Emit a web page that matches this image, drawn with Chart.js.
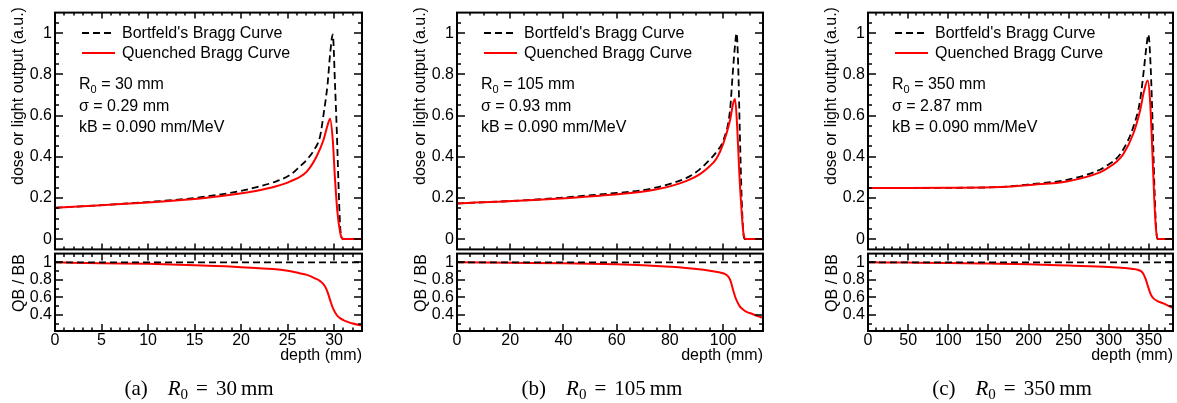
<!DOCTYPE html>
<html><head><meta charset="utf-8">
<script src="https://cdn.jsdelivr.net/npm/chart.js@4.4.0/dist/chart.umd.min.js"></script>
<style>
body{margin:0;width:1177px;height:403px;background:#fff;position:relative;overflow:hidden;font-family:"Liberation Sans",Arial,sans-serif;color:#000;}
canvas{position:absolute;}
.t{position:absolute;font-size:16px;white-space:nowrap;line-height:20px;}
.t sub{font-size:11px;vertical-align:-4px;line-height:0;}
.rot{position:absolute;font-size:16px;white-space:nowrap;line-height:18px;transform:translate(-50%,-50%) rotate(-90deg);}
.cap{position:absolute;font-family:"Liberation Serif","DejaVu Serif",serif;font-size:21px;white-space:nowrap;line-height:24px;transform:translateX(-50%);}
.cap sub{font-size:15px;vertical-align:-4px;line-height:0;}
svg{position:absolute;left:0;top:0;}
</style>
</head><body>
<script>
// ---------------- data ----------------
// Panel (a): R0 = 30 mm
const depthA_BB = [0, 5, 10, 15, 20, 21.7, 23.5, 25.3, 26.3, 27.06, 27.8, 28.5, 28.85, 29.3, 29.57, 29.86, 30.1, 30.3, 30.47, 30.65, 30.8, 31.0, 33];
const doseA_BB  = [0.152, 0.165, 0.180, 0.200, 0.234, 0.253, 0.276, 0.3125, 0.352, 0.385, 0.43, 0.50, 0.60, 0.753, 0.897, 0.994, 0.75, 0.513, 0.272, 0.064, 0.008, 0, 0];
const depthA_QB = [0, 5, 10, 15.6, 19.9, 21.7, 23.5, 25.3, 27.06, 28.1, 28.85, 29.3, 29.57, 29.86, 30.1, 30.36, 30.65, 30.8, 31.0, 33];
const lightA_QB = [0.152, 0.165, 0.178, 0.197, 0.221, 0.235, 0.253, 0.28, 0.328, 0.40, 0.48, 0.553, 0.585, 0.48, 0.29, 0.13, 0.033, 0.008, 0, 0];
const depthA_ratio = [0, 5, 10, 15, 20, 25, 26.3, 27, 28, 28.5, 29.0, 29.3, 29.6, 29.9, 30.3, 30.6, 31.0, 31.4, 32, 33];
const ratioA       = [1.0, 0.99, 0.983, 0.967, 0.945, 0.905, 0.875, 0.86, 0.815, 0.785, 0.73, 0.66, 0.56, 0.47, 0.395, 0.365, 0.34, 0.322, 0.30, 0.278];

// Panel (b): R0 = 105 mm
const depthB_BB = [0, 28.7, 53.7, 68.8, 75.1, 81.3, 87.6, 91.3, 93.8, 97.6, 100.1, 102.6, 103.6, 104.4, 105.1, 105.7, 106.3, 107.0, 107.6, 108.2, 115];
const doseB_BB  = [0.173, 0.191, 0.217, 0.236, 0.251, 0.273, 0.306, 0.34, 0.37, 0.425, 0.48, 0.625, 0.80, 0.93, 1.0, 0.833, 0.513, 0.192, 0.032, 0, 0];
const depthB_QB = [0, 28.7, 53.7, 68.8, 75.1, 81.3, 87.6, 91.3, 93.8, 97.6, 100.1, 102.6, 103.8, 104.5, 105.3, 106.1, 107.0, 107.6, 108.6, 115];
const lightB_QB = [0.173, 0.19, 0.211, 0.229, 0.242, 0.261, 0.29, 0.316, 0.34, 0.393, 0.465, 0.577, 0.66, 0.681, 0.545, 0.32, 0.128, 0.033, 0, 0];
const depthB_ratio = [0, 20, 40, 60, 70, 80, 90, 95, 100, 101.3, 102.3, 103, 103.8, 104.5, 105.3, 106.2, 107.5, 109, 111, 113, 115];
const ratioB       = [1.0, 0.995, 0.99, 0.979, 0.968, 0.95, 0.925, 0.905, 0.875, 0.855, 0.82, 0.77, 0.68, 0.61, 0.55, 0.50, 0.46, 0.43, 0.41, 0.385, 0.365];

// Panel (c): R0 = 350 mm
const depthC_BB = [0, 50, 100, 164.5, 206, 247.6, 289, 297.4, 310, 318, 330.6, 339, 344, 347.2, 349.3, 352.2, 354.7, 356.7, 358.8, 360.5, 380];
const doseC_BB  = [0.248, 0.248, 0.249, 0.253, 0.268, 0.288, 0.337, 0.357, 0.393, 0.435, 0.545, 0.673, 0.833, 0.946, 0.994, 0.833, 0.545, 0.272, 0.064, 0, 0];
const depthC_QB = [0, 50, 100, 164.5, 206, 247.6, 289, 297.4, 310, 318, 330.6, 339, 344, 348.5, 351.4, 354.2, 356.7, 358.8, 361.3, 380];
const lightC_QB = [0.248, 0.248, 0.249, 0.253, 0.264, 0.28, 0.324, 0.342, 0.377, 0.412, 0.513, 0.625, 0.72, 0.77, 0.673, 0.433, 0.192, 0.048, 0, 0];
const depthC_ratio = [0, 50, 100, 150, 200, 250, 300, 320, 330, 336, 340, 343, 345, 347, 349, 351, 353, 356, 360, 368, 375, 380];
const ratioC       = [1.0, 0.997, 0.993, 0.986, 0.978, 0.963, 0.947, 0.935, 0.925, 0.915, 0.90, 0.87, 0.83, 0.78, 0.72, 0.665, 0.62, 0.585, 0.56, 0.53, 0.5, 0.478];

// reference line QB/BB = 1 (Bortfeld / Bortfeld)
const unityRatio = [1, 1];

// tick labels
const yLabelsTop   = [0, 0.2, 0.4, 0.6, 0.8, 1];
const yLabelsRatio = [0.4, 0.6, 0.8, 1];
const xLabelsA = [0, 5, 10, 15, 20, 25, 30];
const xLabelsB = [0, 20, 40, 60, 80, 100];
const xLabelsC = [0, 50, 100, 150, 200, 250, 300, 350];

// texts
const legendBB = "Bortfeld's Bragg Curve";
const legendQB = "Quenched Bragg Curve";
const yTitleTop = "dose or light output (a.u.)";
const yTitleBottom = "QB / BB";
const xTitle = "depth (mm)";
const paramsA = {R0: "30", sigma: "0.29", kB: "0.090", tag: "(a)"};
const paramsB = {R0: "105", sigma: "0.93", kB: "0.090", tag: "(b)"};
const paramsC = {R0: "350", sigma: "2.87", kB: "0.090", tag: "(c)"};

// ---------------- layout ----------------
const panels = [
  {left: 55,  right: 362,  xmax: 33,  xMajor: 5,  xMinor: 1,  xLabels: xLabelsA, capX: 199,
   bbX: depthA_BB, bbY: doseA_BB, qbX: depthA_QB, qbY: lightA_QB, rX: depthA_ratio, rY: ratioA, p: paramsA},
  {left: 457, right: 763,  xmax: 115, xMajor: 20, xMinor: 5,  xLabels: xLabelsB, capX: 602,
   bbX: depthB_BB, bbY: doseB_BB, qbX: depthB_QB, qbY: lightB_QB, rX: depthB_ratio, rY: ratioB, p: paramsB},
  {left: 868, right: 1173, xmax: 380, xMajor: 50, xMinor: 10, xLabels: xLabelsC, capX: 1012,
   bbX: depthC_BB, bbY: doseC_BB, qbX: depthC_QB, qbY: lightC_QB, rX: depthC_ratio, rY: ratioC, p: paramsC}
];

Chart.defaults.font.family = '"Liberation Sans", Arial, sans-serif';
Chart.defaults.font.size = 16;
Chart.defaults.color = '#000';

const fmt = v => String(Number(Number(v).toFixed(3)));
const pts = (xs, ys) => xs.map((x, i) => ({x: x, y: ys[i]}));
const setTicks = arr => (scale => { scale.ticks = arr.map(v => ({value: v})); });

const frameTicks = {
  id: 'frameTicks',
  afterDraw(chart, args, o) {
    const ctx = chart.ctx;
    const {left, right, top, bottom} = chart.chartArea;
    const xs = chart.scales.x, ys = chart.scales.y;
    ctx.save();
    ctx.strokeStyle = '#000';
    ctx.lineWidth = 1.5;
    const line = (x1, y1, x2, y2) => { ctx.beginPath(); ctx.moveTo(x1, y1); ctx.lineTo(x2, y2); ctx.stroke(); };
    const isMult = (v, s) => Math.abs(v / s - Math.round(v / s)) < 1e-6;
    for (let k = Math.ceil((xs.min + 1e-9) / o.xMinor); k * o.xMinor < xs.max - 1e-9; k++) {
      const v = k * o.xMinor, px = Math.round(xs.getPixelForValue(v));
      const L = isMult(v, o.xMajor) ? o.xL[0] : o.xL[1];
      line(px, bottom, px, bottom - L);
      line(px, top, px, top + L);
    }
    for (let k = Math.ceil((ys.min + 1e-9) / o.yMinor); k * o.yMinor < ys.max - 1e-9; k++) {
      const v = k * o.yMinor, py = Math.round(ys.getPixelForValue(v));
      const L = isMult(v, o.yMajor) ? o.yL[0] : o.yL[1];
      line(left, py, left + L, py);
      line(right, py, right - L, py);
    }
    ctx.lineWidth = 2;
    ctx.strokeRect(left, top, right - left, bottom - top);
    ctx.restore();
  }
};

function addCanvas(x, y, w, h) {
  const c = document.createElement('canvas');
  c.width = w; c.height = h;
  c.style.left = x + 'px'; c.style.top = y + 'px';
  c.style.width = w + 'px'; c.style.height = h + 'px';
  document.body.appendChild(c);
  return c;
}

function addDiv(cls, html, css) {
  const d = document.createElement('div');
  d.className = cls; d.innerHTML = html;
  Object.assign(d.style, css);
  document.body.appendChild(d);
  return d;
}

const AXW = 55, PADR = 4;
const svgNS = 'http://www.w3.org/2000/svg';
const svg = document.createElementNS(svgNS, 'svg');
svg.setAttribute('width', 1177); svg.setAttribute('height', 403);

panels.forEach(P => {
  const w = AXW + (P.right - P.left) + PADR;
  // ---- top pad ----
  const c1 = addCanvas(P.left - AXW, 0, w, 262);
  new Chart(c1, {
    type: 'line',
    data: {datasets: [
      {data: pts(P.qbX, P.qbY), borderColor: '#ff0000', borderWidth: 2, pointRadius: 0, cubicInterpolationMode: 'monotone', fill: false},
      {data: pts(P.bbX, P.bbY), borderColor: '#000000', borderWidth: 1.8, borderDash: [7, 4], pointRadius: 0, cubicInterpolationMode: 'monotone', fill: false}
    ]},
    options: {
      responsive: false, animation: false, devicePixelRatio: 1,
      layout: {padding: {left: 0, right: PADR, top: 11, bottom: 11}},
      plugins: {legend: {display: false}, tooltip: {enabled: false},
        frameTicks: {xMinor: P.xMinor, xMajor: P.xMajor, yMinor: 0.05, yMajor: 0.2, xL: [6, 3], yL: [8, 4]}},
      scales: {
        x: {type: 'linear', min: 0, max: P.xmax, grid: {display: false, drawTicks: false}, border: {display: false},
            ticks: {display: false}, afterFit: s => { s.height = 0; }},
        y: {type: 'linear', min: -0.05, max: 1.1, grid: {display: false, drawTicks: false}, border: {display: false},
            afterBuildTicks: setTicks(yLabelsTop),
            ticks: {autoSkip: false, padding: 3, callback: v => fmt(v)},
            afterFit: s => { s.width = AXW; }}
      }
    },
    plugins: [frameTicks]
  });
  // ---- bottom pad ----
  const c2 = addCanvas(P.left - AXW, 241, w, 130);
  new Chart(c2, {
    type: 'line',
    data: {datasets: [
      {data: pts([0, P.xmax], unityRatio), borderColor: '#000000', borderWidth: 1.8, borderDash: [7, 4], pointRadius: 0, fill: false},
      {data: pts(P.rX, P.rY), borderColor: '#ff0000', borderWidth: 2, pointRadius: 0, cubicInterpolationMode: 'monotone', fill: false}
    ]},
    options: {
      responsive: false, animation: false, devicePixelRatio: 1,
      layout: {padding: {left: 0, right: PADR, top: 10, bottom: 0}},
      plugins: {legend: {display: false}, tooltip: {enabled: false},
        frameTicks: {xMinor: P.xMinor, xMajor: P.xMajor, yMinor: 0.1, yMajor: 0.2, xL: [7, 3.5], yL: [8, 4]}},
      scales: {
        x: {type: 'linear', min: 0, max: P.xmax, grid: {display: false, drawTicks: false}, border: {display: false},
            afterBuildTicks: setTicks(P.xLabels),
            ticks: {autoSkip: false, maxRotation: 0, padding: 0, callback: v => fmt(v)},
            afterFit: s => { s.height = 40; }},
        y: {type: 'linear', min: 0.215, max: 1.1, grid: {display: false, drawTicks: false}, border: {display: false},
            afterBuildTicks: setTicks(yLabelsRatio),
            ticks: {autoSkip: false, padding: 3, callback: v => fmt(v)},
            afterFit: s => { s.width = AXW; }}
      }
    },
    plugins: [frameTicks]
  });

  // ---- legend samples ----
  const l1 = document.createElementNS(svgNS, 'line');
  l1.setAttribute('x1', P.left + 27); l1.setAttribute('x2', P.left + 60);
  l1.setAttribute('y1', 33); l1.setAttribute('y2', 33);
  l1.setAttribute('stroke', '#000'); l1.setAttribute('stroke-width', 1.8); l1.setAttribute('stroke-dasharray', '7 4');
  svg.appendChild(l1);
  const l2 = document.createElementNS(svgNS, 'line');
  l2.setAttribute('x1', P.left + 27); l2.setAttribute('x2', P.left + 60);
  l2.setAttribute('y1', 53); l2.setAttribute('y2', 53);
  l2.setAttribute('stroke', '#ff0000'); l2.setAttribute('stroke-width', 2);
  svg.appendChild(l2);
  addDiv('t', legendBB, {left: (P.left + 67) + 'px', top: '23px'});
  addDiv('t', legendQB, {left: (P.left + 67) + 'px', top: '43px'});

  // ---- parameters ----
  addDiv('t', 'R<sub>0</sub> = ' + P.p.R0 + ' mm', {left: (P.left + 24) + 'px', top: '74px'});
  addDiv('t', '\u03c3 = ' + P.p.sigma + ' mm', {left: (P.left + 24) + 'px', top: '96px'});
  addDiv('t', 'kB = ' + P.p.kB + ' mm/MeV', {left: (P.left + 24) + 'px', top: '117px'});

  // ---- axis titles ----
  addDiv('rot', yTitleTop, {left: (P.left - 37) + 'px', top: '96px'});
  addDiv('rot', yTitleBottom, {left: (P.left - 36) + 'px', top: '283px'});
  addDiv('t', xTitle, {left: (P.right - 100) + 'px', width: '100px', textAlign: 'right', top: '345px'});

  // ---- caption ----
  addDiv('cap', P.p.tag + '<span style="margin-left:20px"><i>R</i><sub>0</sub></span><span style="margin:0 8px">=</span>' + P.p.R0 + '<span style="margin-left:4px">mm</span>',
         {left: P.capX + 'px', top: '376px'});
});
document.body.appendChild(svg);
</script>
</body></html>
